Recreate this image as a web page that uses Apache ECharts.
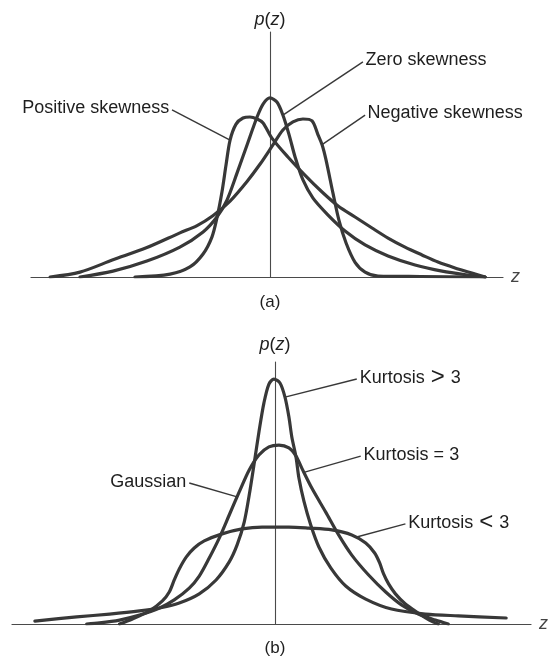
<!DOCTYPE html>
<html>
<head>
<meta charset="utf-8">
<script src="https://cdn.jsdelivr.net/npm/echarts@6/dist/echarts.min.js"></script>
<style>
  html, body { margin: 0; padding: 0; background: #ffffff; }
  #chart { width: 549px; height: 658px; }
</style>
</head>
<body>
<div id="chart"></div>
<script>
// ---------- (a) skewness: density curves, [z, p(z)] ----------
const zeroSkew = [[-7.95,0],[-6.57,0.024],[-5.15,0.065],[-3.77,0.122],[-2.80,0.184],[-2.22,0.245],[-1.80,0.314],[-1.38,0.424],[-0.96,0.539],[-0.54,0.653],[-0.29,0.706],[0,0.731],[0.29,0.714],[0.54,0.661],[0.80,0.58],[1.05,0.49],[1.38,0.396],[1.80,0.322],[2.43,0.253],[3.14,0.188],[3.98,0.131],[4.94,0.086],[6.07,0.049],[7.20,0.024],[8.29,0.008],[9.0,0]];
const positiveSkew = [[-5.65,0],[-4.18,0.012],[-3.35,0.041],[-2.80,0.094],[-2.43,0.163],[-2.22,0.241],[-2.01,0.347],[-1.84,0.457],[-1.67,0.559],[-1.42,0.624],[-1.13,0.649],[-0.84,0.653],[-0.54,0.645],[-0.29,0.629],[0.08,0.567],[0.75,0.49],[1.46,0.416],[2.18,0.347],[2.85,0.29],[3.56,0.245],[4.27,0.2],[4.94,0.159],[5.65,0.122],[6.36,0.09],[7.03,0.061],[7.74,0.037],[8.45,0.016],[9.0,0]];
const negativeSkew = [[-9.2,0],[-7.95,0.02],[-6.57,0.07],[-5.15,0.12],[-3.77,0.18],[-3.05,0.21],[-2.39,0.25],[-1.67,0.31],[-0.96,0.39],[-0.42,0.46],[0.13,0.54],[0.54,0.60],[0.96,0.633],[1.38,0.645],[1.76,0.637],[2.01,0.58],[2.18,0.54],[2.34,0.48],[2.64,0.34],[2.89,0.23],[3.18,0.14],[3.56,0.06],[3.98,0.02],[4.52,0.004],[6.3,0.002],[9.0,0]];

// ---------- (b) kurtosis: density curves, [z, p(z)] ----------
const kurtHigh = [[-9.13,0.011],[-7.54,0.027],[-6.29,0.038],[-5.15,0.05],[-4.39,0.061],[-3.64,0.08],[-2.88,0.115],[-2.24,0.168],[-1.74,0.237],[-1.44,0.302],[-1.17,0.389],[-0.98,0.492],[-0.80,0.607],[-0.61,0.733],[-0.42,0.844],[-0.23,0.916],[-0.04,0.935],[0.19,0.92],[0.38,0.866],[0.53,0.79],[0.64,0.714],[0.80,0.637],[0.91,0.557],[1.10,0.469],[1.36,0.378],[1.67,0.294],[2.12,0.214],[2.69,0.145],[3.45,0.095],[4.43,0.057],[5.72,0.038],[6.97,0.031],[8.79,0.023]];
const kurtGauss = [[-7.16,0],[-6.67,0.004],[-5.91,0.015],[-5.15,0.034],[-4.39,0.061],[-3.83,0.092],[-3.26,0.137],[-2.88,0.183],[-2.50,0.252],[-2.12,0.328],[-1.74,0.416],[-1.36,0.504],[-0.98,0.588],[-0.61,0.645],[-0.23,0.676],[0.15,0.683],[0.53,0.672],[0.80,0.641],[1.02,0.595],[1.40,0.519],[1.93,0.427],[2.42,0.34],[2.92,0.263],[3.56,0.187],[4.21,0.122],[4.81,0.073],[5.45,0.038],[6.10,0.015],[6.59,0]];
const kurtLow = [[-5.91,0],[-5.42,0.019],[-4.77,0.05],[-4.28,0.088],[-4.02,0.122],[-3.83,0.168],[-3.64,0.21],[-3.37,0.256],[-3.07,0.29],[-2.69,0.317],[-2.01,0.344],[-1.25,0.363],[-0.49,0.37],[0,0.37],[0.53,0.37],[1.29,0.366],[2.16,0.359],[2.92,0.34],[3.45,0.309],[3.79,0.271],[3.98,0.233],[4.13,0.191],[4.32,0.153],[4.58,0.115],[4.96,0.076],[5.45,0.042],[5.87,0.015],[6.21,0]];

// Callouts: label text, the z where its leader meets the curve, and the label end [z, p]
const skewNotes = {
  zero:     [{ text: 'Zero skewness',     z: 0.54,  end: [3.89, 0.878] }],
  positive: [{ text: 'Positive skewness', z: -1.67, end: [-4.10, 0.682] }],
  negative: [{ text: 'Negative skewness', z: 2.18,  end: [3.98, 0.661] }]
};
const kurtNotes = {
  high:  [{ text: 'Kurtosis > 3', z: 0.38, end: [3.11, 0.935] }],
  gauss: [{ text: 'Kurtosis = 3', z: 1.10, end: [3.26, 0.641] },
          { text: 'Gaussian',     z: -1.44, end: [-3.26, 0.538] }],
  low:   [{ text: 'Kurtosis < 3', z: 3.07, end: [4.96, 0.382] }]
};

const INK = '#383838';
const TEXT = '#1e1e1e';
const FONT = '"Liberation Sans", Arial, Helvetica, sans-serif';

// linear read of a curve at z, so a leader ends on the drawn line
function pAt(curve, z) {
  for (let i = 1; i < curve.length; i++) {
    const [z0, p0] = curve[i - 1], [z1, p1] = curve[i];
    if (z >= z0 && z <= z1) return p0 + (p1 - p0) * (z - z0) / (z1 - z0);
  }
  return 0;
}

// comparison signs are set a little larger than the words around them
function richText(s) {
  const m = s.match(/^(.*?) ([<>]) (.*)$/);
  if (!m) return '{t|' + s + '}';
  return '{t|' + m[1] + ' }{op|' + m[2] + '}{t| ' + m[3] + '}';
}

function curveSeries(data, gi, notes) {
  return {
    type: 'line',
    xAxisIndex: gi, yAxisIndex: gi,
    data: data,
    showSymbol: false,
    smooth: 0.3,
    silent: true,
    lineStyle: { color: INK, width: 3.2, cap: 'round', join: 'round' },
    markLine: {
      silent: true,
      symbol: ['none', 'none'],
      animation: false,
      lineStyle: { color: INK, width: 1.4, type: 'solid' },
      emphasis: { disabled: true },
      label: {
        show: true, position: 'end', distance: 3,
        formatter: (p) => richText(p.name),
        fontSize: 18, fontFamily: FONT, color: TEXT,
        rich: {
          t: { fontSize: 18, fontFamily: FONT, color: TEXT, verticalAlign: 'middle' },
          op: { fontSize: 24, fontFamily: FONT, color: TEXT, verticalAlign: 'middle', padding: [0, 1, 2, 1] }
        }
      },
      data: notes.map(n => [
        { name: n.text, coord: [n.z, pAt(data, n.z)] },
        { coord: n.end }
      ])
    }
  };
}

function axisPair(gi, xMax, pNameGap) {
  const x = {
    type: 'value', gridIndex: gi, min: -10, max: xMax,
    axisLine: { show: true, onZero: true, lineStyle: { color: '#4a4a4a', width: 1.2 } },
    axisTick: { show: false }, axisLabel: { show: false }, splitLine: { show: false },
    name: 'z', nameLocation: 'end', nameGap: 8,
    nameTextStyle: { fontStyle: 'italic', fontSize: 18, fontFamily: FONT, color: '#444', verticalAlign: 'middle' }
  };
  const y = {
    type: 'value', gridIndex: gi, min: 0, max: 1,
    axisLine: { show: true, onZero: true, lineStyle: { color: '#4a4a4a', width: 1.1 } },
    axisTick: { show: false }, axisLabel: { show: false }, splitLine: { show: false },
    name: '{i|p}({i|z})', nameLocation: 'end', nameGap: pNameGap,
    nameTextStyle: {
      fontSize: 18, fontFamily: FONT, color: TEXT,
      rich: { i: { fontStyle: 'italic', fontSize: 18, fontFamily: FONT, color: TEXT } }
    }
  };
  return [x, y];
}

const [xa, ya] = axisPair(0, 9.75, 3);
const [xb, yb] = axisPair(1, 9.735, 8);

const chart = echarts.init(document.getElementById('chart'), null, { renderer: 'canvas' });
chart.setOption({
  animation: false,
  backgroundColor: '#ffffff',
  grid: [
    { left: 31, right: 46, top: 32, bottom: 381 },
    { left: 12, right: 16, top: 362, bottom: 34 }
  ],
  xAxis: [xa, xb],
  yAxis: [ya, yb],
  series: [
    curveSeries(zeroSkew, 0, skewNotes.zero),
    curveSeries(positiveSkew, 0, skewNotes.positive),
    curveSeries(negativeSkew, 0, skewNotes.negative),
    curveSeries(kurtHigh, 1, kurtNotes.high),
    curveSeries(kurtGauss, 1, kurtNotes.gauss),
    curveSeries(kurtLow, 1, kurtNotes.low)
  ]
});

// panel captions, centred under each p(z) axis
const ax = chart.convertToPixel({ xAxisIndex: 0 }, 0);
const bx = chart.convertToPixel({ xAxisIndex: 1 }, 0);
chart.setOption({
  graphic: [
    { type: 'text', x: ax, y: 302, silent: true,
      style: { text: '(a)', fontSize: 17, fontFamily: FONT, fill: TEXT, align: 'center', verticalAlign: 'middle' } },
    { type: 'text', x: bx, y: 648, silent: true,
      style: { text: '(b)', fontSize: 17, fontFamily: FONT, fill: TEXT, align: 'center', verticalAlign: 'middle' } }
  ]
});
</script>
</body>
</html>
